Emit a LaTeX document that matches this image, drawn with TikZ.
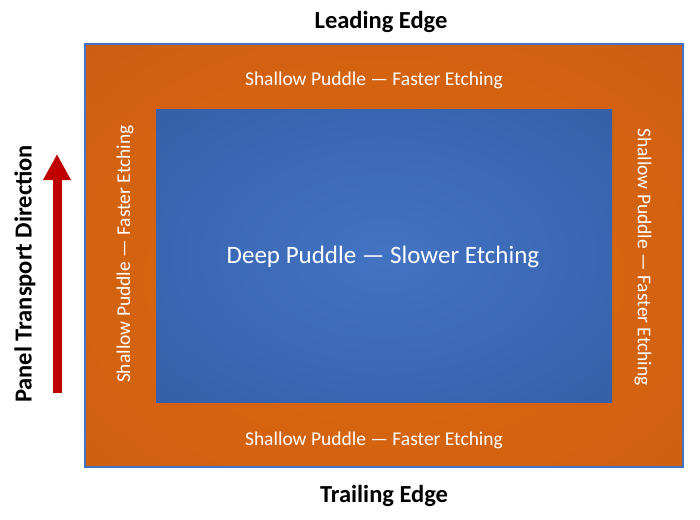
\documentclass[tikz,border=0pt]{standalone}
\usepackage{fontspec}
\setmainfont{Carlito}
\usetikzlibrary{arrows.meta,positioning}
\definecolor{frameblue}{RGB}{68,114,196}
\definecolor{arrowred}{RGB}{192,0,0}
\pgfdeclareradialshading{puddleglow}{\pgfpoint{0bp}{-4bp}}{%
  rgb(0bp)=(0.86,0.41,0.06);
  rgb(30bp)=(0.82,0.38,0.07);
  rgb(42bp)=(0.77,0.36,0.07);
  rgb(50bp)=(0.74,0.34,0.08);
  rgb(71bp)=(0.70,0.33,0.09)}
\pgfdeclareradialshading{deepglow}{\pgfpoint{0bp}{0bp}}{%
  rgb(0bp)=(0.26,0.45,0.76);
  rgb(20bp)=(0.23,0.41,0.71);
  rgb(45bp)=(0.19,0.35,0.63);
  rgb(71bp)=(0.17,0.32,0.58)}
\tikzset{
    shallow/.style={rectangle,
            inner sep=0pt,
            minimum width=598pt,
            minimum height=423pt,
            shading=puddleglow,
            draw=frameblue,
            line width=1.2pt},
    deep/.style={rectangle,
            inner sep=0pt,
            minimum width=456pt,
            minimum height=293pt,
            shading=deepglow},
    zonelabel/.style={text=white, font=\fontsize{19.5}{22}\selectfont},
    edgelabel/.style={font=\bfseries\fontsize{24.5}{28}\selectfont},
}
\begin{document}
\begin{tikzpicture}[x=1pt,y=-1pt]
\useasboundingbox (0,0) rectangle (700,519);
\node[shallow] (panel) at (384,255.5) {};
\node[deep] (core) at (384,255.5) {};
\node[text=white, font=\fontsize{25}{30}\selectfont] (deeptext) at (383,257) {Deep Puddle — Slower Etching};
\node[zonelabel] (top) at (374,80) {Shallow Puddle — Faster Etching};
\node[zonelabel] (bottom) at (374,440) {Shallow Puddle — Faster Etching};
\node[zonelabel, rotate=90] (left) at (125,254) {Shallow Puddle — Faster Etching};
\node[zonelabel, rotate=-90] (right) at (643,257) {Shallow Puddle — Faster Etching};
\node[edgelabel] (lead) at (381,22) {Leading Edge};
\node[edgelabel] (trail) at (384,496) {Trailing Edge};
\node[edgelabel, rotate=90] (transport) at (25,274) {Panel Transport Direction};
% transport arrow
\coordinate (tail) at (57,393);
\coordinate (tip) at (57,154);
\draw[arrowred, line width=9pt, -{Triangle[width=26pt,length=26pt]}] (tail) -- (tip);
\end{tikzpicture}
\end{document}
